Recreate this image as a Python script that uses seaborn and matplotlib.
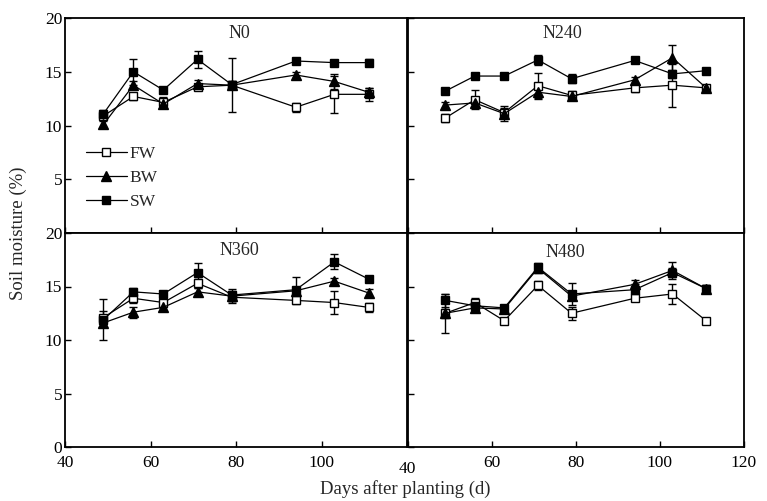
import matplotlib
matplotlib.use("Agg")
import matplotlib.pyplot as plt
import matplotlib.transforms as mtrans
import seaborn as sns
import pandas as pd
import numpy as np

sns.set_style("ticks")
plt.rcParams['font.family'] = ['Liberation Serif', 'DejaVu Serif']
plt.rcParams['mathtext.fontset'] = 'stix'

days = [49, 56, 63, 71, 79, 94, 103, 111]
series = ["FW", "BW", "SW"]
panels = ["N0", "N240", "N360", "N480"]

fw_n0 = [10.9, 12.7, 12.15, 13.6, 13.75, 11.7, 12.9, 12.9]
bw_n0 = [10.1, 13.75, 12.0, 13.9, 13.75, 14.7, 14.1, 13.1]
sw_n0 = [11.1, 15.0, 13.3, 16.15, 13.8, 16.0, 15.85, 15.85]
fw_n0_err = [0.3, 0.3, 0.5, 0.3, 2.5, 0.4, 1.7, 0.6]
bw_n0_err = [0.3, 0.4, 0.4, 0.3, 0.3, 0.3, 0.7, 0.4]
sw_n0_err = [0.3, 1.2, 0.3, 0.8, 0.3, 0.2, 0.2, 0.3]

fw_n240 = [10.7, 12.4, 11.2, 13.7, 12.8, 13.5, 13.75, 13.5]
bw_n240 = [11.9, 12.1, 11.1, 13.1, 12.7, 14.25, 16.3, 13.5]
sw_n240 = [13.2, 14.6, 14.6, 16.1, 14.35, 16.05, 14.8, 15.1]
fw_n240_err = [0.4, 0.9, 0.4, 1.2, 0.4, 0.4, 2.0, 0.3]
bw_n240_err = [0.3, 0.4, 0.7, 0.5, 0.3, 0.3, 1.2, 0.3]
sw_n240_err = [0.2, 0.2, 0.3, 0.5, 0.4, 0.2, 0.4, 0.2]

fw_n360 = [12.1, 13.9, 13.5, 15.3, 14.0, 13.7, 13.5, 13.05]
bw_n360 = [11.6, 12.6, 13.05, 14.5, 14.1, 14.6, 15.5, 14.4]
sw_n360 = [11.9, 14.5, 14.3, 16.3, 14.2, 14.7, 17.3, 15.7]
fw_n360_err = [0.6, 0.4, 0.4, 0.4, 0.5, 0.3, 1.1, 0.4]
bw_n360_err = [0.4, 0.5, 0.3, 0.4, 0.5, 0.3, 0.3, 0.4]
sw_n360_err = [1.9, 0.4, 0.3, 0.9, 0.6, 1.2, 0.7, 0.2]

fw_n480 = [12.5, 13.5, 11.8, 15.1, 12.5, 13.9, 14.3, 11.8]
bw_n480 = [12.5, 13.0, 12.9, 16.7, 14.1, 15.2, 16.5, 14.8]
sw_n480 = [13.7, 13.2, 13.0, 16.8, 14.3, 14.7, 16.3, 14.8]
fw_n480_err = [0.4, 0.4, 0.3, 0.4, 0.6, 0.3, 0.9, 0.3]
bw_n480_err = [1.8, 0.3, 0.4, 0.4, 0.3, 0.4, 0.8, 0.3]
sw_n480_err = [0.6, 0.3, 0.3, 0.4, 1.0, 0.5, 0.4, 0.3]

values = {
    "N0": {"FW": (fw_n0, fw_n0_err), "BW": (bw_n0, bw_n0_err), "SW": (sw_n0, sw_n0_err)},
    "N240": {"FW": (fw_n240, fw_n240_err), "BW": (bw_n240, bw_n240_err), "SW": (sw_n240, sw_n240_err)},
    "N360": {"FW": (fw_n360, fw_n360_err), "BW": (bw_n360, bw_n360_err), "SW": (sw_n360, sw_n360_err)},
    "N480": {"FW": (fw_n480, fw_n480_err), "BW": (bw_n480, bw_n480_err), "SW": (sw_n480, sw_n480_err)},
}

styles = {
    "FW": dict(marker="s", markerfacecolor="white", markersize=5.8),
    "BW": dict(marker="^", markerfacecolor="black", markersize=7.0),
    "SW": dict(marker="s", markerfacecolor="black", markersize=5.8),
}

W, H = 767, 501
fig = plt.figure(figsize=(W / 100, H / 100), dpi=100)

def frac(x0, y0, x1, y1):
    return [x0 / W, 1 - y1 / H, (x1 - x0) / W, (y1 - y0) / H]

rects = {
    "N0": frac(65, 18, 407, 233),
    "N240": frac(407.5, 18, 744, 233),
    "N360": frac(65, 233, 407, 447),
    "N480": frac(407.5, 233, 744, 447),
}
title_pos = {"N0": (0.51, 0.93), "N240": (0.46, 0.93), "N360": (0.51, 0.92), "N480": (0.47, 0.91)}

fs = 12.5
axes = {}
for p in panels:
    ax = fig.add_axes(rects[p])
    axes[p] = ax
    for s in series:
        v, e = values[p][s]
        df = pd.DataFrame({"day": days, "val": v})
        ax.errorbar(days, v, yerr=e, fmt="none", ecolor="black", elinewidth=1.0,
                    capsize=3.2, capthick=1.0, zorder=2)
        sns.lineplot(data=df, x="day", y="val", ax=ax, color="black", lw=0.9,
                     markeredgecolor="black", markeredgewidth=1.0, label=s,
                     zorder=3, **styles[s])
    ax.set_xlim(40, 120)
    ax.set_ylim(0, 20)
    ax.set_xlabel("")
    ax.set_ylabel("")
    ax.set_xticks([40, 60, 80, 100, 120])
    ax.set_yticks([0, 5, 10, 15, 20])
    ax.tick_params(direction="in", length=4, width=1, colors="black", labelsize=fs,
                   top=False, right=False)
    for sp in ax.spines.values():
        sp.set_visible(True)
        sp.set_linewidth(1.3)
        sp.set_color("black")
    tx, ty = title_pos[p]
    ax.text(tx, ty, p, transform=ax.transAxes, ha="center", va="center", fontsize=13)
    if ax.get_legend() is not None:
        ax.get_legend().remove()

# tick label visibility
axes["N0"].set_xticklabels([])
axes["N240"].set_xticklabels([])
axes["N240"].set_yticklabels([])
axes["N480"].set_yticklabels([])
axes["N0"].set_yticklabels(["", "5", "10", "15", "20"])
axes["N360"].set_xticklabels(["40", "60", "80", "100", ""])
axes["N480"].set_xticklabels(["40", "60", "80", "100", "120"])
for ax in axes.values():
    ax.tick_params(axis="y", pad=2)
    ax.tick_params(axis="x", pad=6)

# lower the first tick label of the right-bottom panel
lbl = axes["N480"].get_xticklabels()[0]
lbl.set_transform(lbl.get_transform() + mtrans.ScaledTranslation(0, -4 / 72, fig.dpi_scale_trans))

# legend in N0
h, l = axes["N0"].get_legend_handles_labels()
axes["N0"].legend(h, l, loc="upper left", bbox_to_anchor=(0.06, 0.405), frameon=False,
                  fontsize=fs, handlelength=2.4, handletextpad=0.15, labelspacing=0.45,
                  borderpad=0, borderaxespad=0)

fig.text(405 / W, 1 - 489 / H, "Days after planting (d)", ha="center", va="center", fontsize=13.5)
fig.text(18 / W, 1 - 233 / H, "Soil moisture (%)", ha="center", va="center", rotation=90, fontsize=13.5)

fig.savefig("out.png", dpi=100)
